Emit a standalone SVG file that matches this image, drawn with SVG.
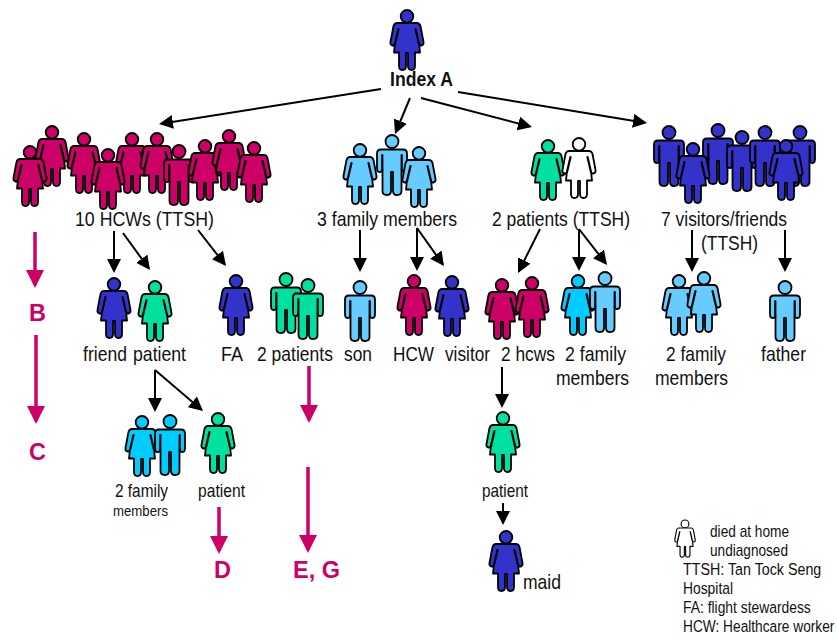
<svg xmlns="http://www.w3.org/2000/svg" width="837" height="640" viewBox="0 0 837 640">
<style>
text{font-family:"Liberation Sans",Arial,sans-serif;font-size:21px;fill:#111}
.s{font-size:18.5px}.xs{font-size:15.5px}.lg{font-size:17px}
.b{font-weight:bold;font-size:21px}
.p{font-weight:bold;font-size:23.5px;fill:#CC0066}
.fig{stroke:#000;stroke-width:1.8;stroke-linejoin:round}
.slit{fill:none;stroke:#000;stroke-width:2.2;stroke-linecap:round}
.hc{fill:#CC0066}.bl{fill:#3333CC}.lb{fill:#66CCFF}.cy{fill:#00CCFF}.gr{fill:#00E0A0}.wh{fill:#fff}
.k{fill:none;stroke:#000;stroke-width:2;marker-end:url(#ak)}
.m{fill:none;stroke:#CC0066;stroke-width:3.5;marker-end:url(#am)}
</style>
<defs>
<marker id="ak" markerUnits="userSpaceOnUse" markerWidth="15" markerHeight="15" refX="12" refY="7" orient="auto"><path d="M0,0L14,7L0,14Z" fill="#000"/></marker>
<marker id="am" markerUnits="userSpaceOnUse" markerWidth="19" markerHeight="19" refX="15" refY="9" orient="auto"><path d="M0,0L18,9L0,18Z" fill="#CC0066"/></marker>
<g id="f"><circle cx="0" cy="6.3" r="6.3"/><path d="M-10,13H10Q12.5,13 13.5,16L16.5,32Q17,35 14.5,35.5L12.2,35L13,42.5H8V56Q8,60 4.5,60Q1,60 1,56V43H-1V56Q-1,60 -4.5,60Q-8,60 -8,56V42.5H-13L-12.2,35L-14.5,35.5Q-17,35 -16.5,32L-13.5,16Q-12.5,13 -10,13Z"/><path class="slit" d="M8.5,19L12,34M-8.5,19L-12,34"/></g>
<g id="m"><circle cx="0" cy="6.5" r="6.5"/><path d="M-11,14.5H11Q15,14.5 15,18.5V33Q15,37 12.5,37Q10,37 9.5,35V56Q9.5,60 5,60Q1,60 1,56V37H-1V56Q-1,60 -5,60Q-9.5,60 -9.5,56V35Q-10,37 -12.5,37Q-15,37 -15,33V18.5Q-15,14.5 -11,14.5Z"/><path class="slit" d="M9.7,20V35M-9.7,20V35"/></g>
</defs>
<g id="connectors">
<path class="k" d="M381,89L161,123.7"/>
<path class="k" d="M410,98L395.8,132.2"/>
<path class="k" d="M421,98L530,126.5"/>
<path class="k" d="M458,92L645,122.7"/>
<path class="k" d="M114,231V271"/>
<path class="k" d="M123,233L148.8,268.4"/>
<path class="k" d="M198,230L224.8,264.4"/>
<path class="k" d="M360,230V270"/>
<path class="k" d="M417,228V269"/>
<path class="k" d="M417,228L442.8,264.4"/>
<path class="k" d="M540,229L518.9,271.2"/>
<path class="k" d="M579,229V269"/>
<path class="k" d="M579,229L605.8,263.4"/>
<path class="k" d="M692,230V270"/>
<path class="k" d="M785,230V270"/>
<path class="k" d="M155,370V410"/>
<path class="k" d="M155,370L201.5,409.7"/>
<path class="k" d="M502,367V406"/>
<path class="k" d="M503,503V523"/>
<path class="m" d="M35,232V285"/>
<path class="m" d="M36,335V421"/>
<path class="m" d="M309,366V420"/>
<path class="m" d="M308,467V550"/>
<path class="m" d="M219,507V551"/>
</g>
<g id="index-a"><use href="#f" class="fig bl" x="407" y="10"/><text class="b" x="390" y="86" textLength="63" lengthAdjust="spacingAndGlyphs">Index A</text></g>
<g id="hcws">
<use href="#f" class="fig hc" x="52" y="126"/><use href="#f" class="fig hc" x="30" y="146"/><use href="#f" class="fig hc" x="84" y="133"/><use href="#f" class="fig hc" x="132" y="133"/><use href="#f" class="fig hc" x="108" y="149"/><use href="#f" class="fig hc" x="157" y="133"/><use href="#m" class="fig hc" x="179" y="145"/><use href="#f" class="fig hc" x="205" y="140"/><use href="#f" class="fig hc" x="229" y="130"/><use href="#f" class="fig hc" x="254" y="142"/>
<text x="75" y="226" textLength="139" lengthAdjust="spacingAndGlyphs">10 HCWs (TTSH)</text>
</g>
<g id="family">
<use href="#f" class="fig lb" x="360" y="144"/><use href="#m" class="fig lb" x="392" y="135"/><use href="#f" class="fig lb" x="419" y="147"/>
<text x="317" y="226" textLength="140" lengthAdjust="spacingAndGlyphs">3 family members</text>
</g>
<g id="patients">
<use href="#f" class="fig gr" x="548" y="140"/><use href="#f" class="fig wh" x="579" y="138"/>
<text x="492" y="226" textLength="138" lengthAdjust="spacingAndGlyphs">2 patients (TTSH)</text>
</g>
<g id="visitors">
<use href="#m" class="fig bl" x="669" y="126"/><use href="#m" class="fig bl" x="718" y="124"/><use href="#f" class="fig bl" x="693" y="143"/><use href="#m" class="fig bl" x="742" y="131"/><use href="#m" class="fig bl" x="800" y="126"/><use href="#m" class="fig bl" x="765" y="126"/><use href="#f" class="fig bl" x="786" y="140"/>
<text x="661" y="226" textLength="126" lengthAdjust="spacingAndGlyphs">7 visitors/friends</text>
<text x="701" y="250" textLength="57" lengthAdjust="spacingAndGlyphs">(TTSH)</text>
</g>
<g id="visitor-family"><use href="#f" class="fig lb" x="679" y="275"/><use href="#f" class="fig lb" x="704" y="272"/>
<text x="666" y="361" textLength="60" lengthAdjust="spacingAndGlyphs">2 family</text><text x="655" y="385" textLength="73" lengthAdjust="spacingAndGlyphs">members</text></g>
<g id="father"><use href="#m" class="fig lb" x="785" y="281"/><text x="761" y="361" textLength="45" lengthAdjust="spacingAndGlyphs">father</text></g>
<g id="friend"><use href="#f" class="fig bl" x="114" y="278"/><text x="83" y="361" textLength="44" lengthAdjust="spacingAndGlyphs">friend</text></g>
<g id="patient-1"><use href="#f" class="fig gr" x="155" y="281"/><text x="133" y="361" textLength="53" lengthAdjust="spacingAndGlyphs">patient</text></g>
<g id="fa"><use href="#f" class="fig bl" x="236" y="275"/><text x="221" y="361" textLength="22" lengthAdjust="spacingAndGlyphs">FA</text></g>
<g id="two-patients"><use href="#m" class="fig gr" x="286" y="273"/><use href="#m" class="fig gr" x="308" y="279"/><text transform="translate(257,361) scale(.835,1)">2 patients</text></g>
<g id="son"><use href="#m" class="fig lb" x="360" y="281"/><text x="344" y="361" textLength="28" lengthAdjust="spacingAndGlyphs">son</text></g>
<g id="hcw"><use href="#f" class="fig hc" x="414" y="275"/><text x="393" y="361" textLength="41" lengthAdjust="spacingAndGlyphs">HCW</text></g>
<g id="visitor"><use href="#f" class="fig bl" x="452" y="276"/><text x="445" y="361" textLength="45" lengthAdjust="spacingAndGlyphs">visitor</text></g>
<g id="two-hcws"><use href="#f" class="fig hc" x="502" y="279"/><use href="#f" class="fig hc" x="532" y="277"/><text x="501" y="361" textLength="54" lengthAdjust="spacingAndGlyphs">2 hcws</text></g>
<g id="patient-family"><use href="#f" class="fig cy" x="578" y="275"/><use href="#m" class="fig lb" x="605" y="272"/>
<text x="565" y="361" textLength="61" lengthAdjust="spacingAndGlyphs">2 family</text><text x="556" y="385" textLength="73" lengthAdjust="spacingAndGlyphs">members</text></g>
<g id="family-lower"><use href="#f" class="fig cy" x="142" y="416"/><use href="#m" class="fig cy" x="170" y="415"/>
<text class="s" x="115" y="497" textLength="53" lengthAdjust="spacingAndGlyphs">2 family</text><text class="xs" x="113" y="516" textLength="55" lengthAdjust="spacingAndGlyphs">members</text></g>
<g id="patient-2"><use href="#f" class="fig gr" x="218" y="413"/><text class="s" x="198" y="497" textLength="47" lengthAdjust="spacingAndGlyphs">patient</text></g>
<g id="patient-3"><use href="#f" class="fig gr" x="503" y="412"/><text class="s" x="482" y="497" textLength="46" lengthAdjust="spacingAndGlyphs">patient</text></g>
<g id="maid"><use href="#f" class="fig bl" x="506" y="531"/><text x="523" y="589" textLength="38" lengthAdjust="spacingAndGlyphs">maid</text></g>
<g id="legend">
<g transform="translate(685,520) scale(.62)"><use href="#f" class="fig wh"/></g>
<text class="lg" x="710" y="537" textLength="79" lengthAdjust="spacingAndGlyphs">died at home</text>
<text class="lg" x="710" y="556" textLength="78" lengthAdjust="spacingAndGlyphs">undiagnosed</text>
<text class="lg" transform="translate(683,575) scale(.84,1)">TTSH: Tan Tock Seng</text>
<text class="lg" x="683" y="594" textLength="50" lengthAdjust="spacingAndGlyphs">Hospital</text>
<text class="lg" transform="translate(683,613) scale(.815,1)">FA: flight stewardess</text>
<text class="lg" transform="translate(683,632) scale(.807,1)">HCW: Healthcare worker</text>
</g>
<g id="letters">
<text class="p" x="29" y="321">B</text>
<text class="p" x="29" y="460">C</text>
<text class="p" x="214" y="578">D</text>
<text class="p" x="293" y="578">E, G</text>
</g>
</svg>
